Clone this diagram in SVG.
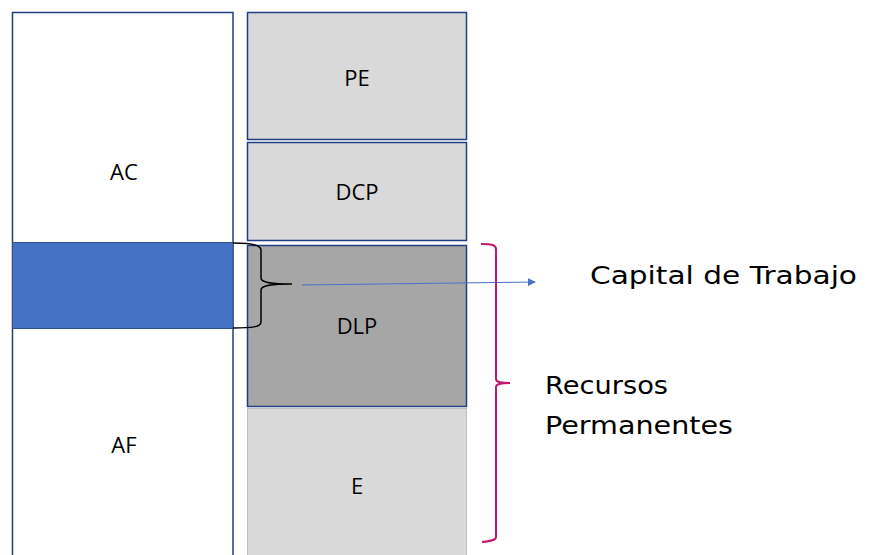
<svg xmlns="http://www.w3.org/2000/svg" width="873" height="555" viewBox="0 0 873 555">
<style>
.box{stroke:#203F80;stroke-width:1.5}
.lbl{font-family:"Open Sans","Liberation Sans",sans-serif;font-size:22px;fill:#000;text-anchor:middle}
.big{font-family:"DejaVu Sans","Liberation Sans",sans-serif;font-size:25px;fill:#000}
</style>
<defs>
<marker id="ah" viewBox="0 0 10 10" refX="9" refY="5" markerWidth="8" markerHeight="8" markerUnits="userSpaceOnUse" orient="auto"><path d="M0,0L10,5L0,10z" fill="#4472C4"/></marker>
</defs>
<rect width="873" height="555" fill="#fff"/>
<g id="ac-af">
<rect class="box" x="12.5" y="12.5" width="220.5" height="560" fill="#fff"/>
<text class="lbl" x="124" y="180">AC</text>
<text class="lbl" x="124" y="453">AF</text>
</g>
<g id="blue-band">
<rect x="12.5" y="242.5" width="220.5" height="86" fill="#4472C4" stroke="#2F528F" stroke-width="1"/>
</g>
<g id="pe">
<rect class="box" x="247.5" y="12.5" width="219" height="127" fill="#D9D9D9"/>
<text class="lbl" x="357" y="86">PE</text>
</g>
<g id="dcp">
<rect class="box" x="247.5" y="142.5" width="219" height="98" fill="#D9D9D9"/>
<text class="lbl" x="357" y="200">DCP</text>
</g>
<g id="dlp">
<rect class="box" x="247.5" y="245.5" width="219" height="161" fill="#A6A6A6"/>
<text class="lbl" x="357" y="334">DLP</text>
</g>
<g id="e">
<rect x="247.5" y="408.5" width="219" height="160" fill="#D9D9D9" stroke="#BFBFBF" stroke-width="1"/>
<text class="lbl" x="357" y="494">E</text>
</g>
<g id="connectors" fill="none">
<path d="M233,243 C252,243 261,245 261,250 L261,278 C261,282 268,284 292,284 C268,284 261,286 261,290 L261,322 C261,327 252,328 233,328" stroke="#000" stroke-width="1.5"/>
<path d="M302,285 L535,282" stroke="#4472C4" stroke-width="1" marker-end="url(#ah)"/>
<path d="M481,244 C492,244 496,245 496,249 L496,379 C496,382 500,383 510,383 C500,383 496,384 496,387 L496,537 C496,540 492,541 482,542" stroke="#C0186E" stroke-width="2"/>
</g>
<g id="labels">
<text class="big" x="590" y="284" textLength="267" lengthAdjust="spacingAndGlyphs">Capital de Trabajo</text>
<text class="big" x="545" y="394" textLength="123" lengthAdjust="spacingAndGlyphs">Recursos</text>
<text class="big" x="545" y="434" textLength="188" lengthAdjust="spacingAndGlyphs">Permanentes</text>
</g>
</svg>
